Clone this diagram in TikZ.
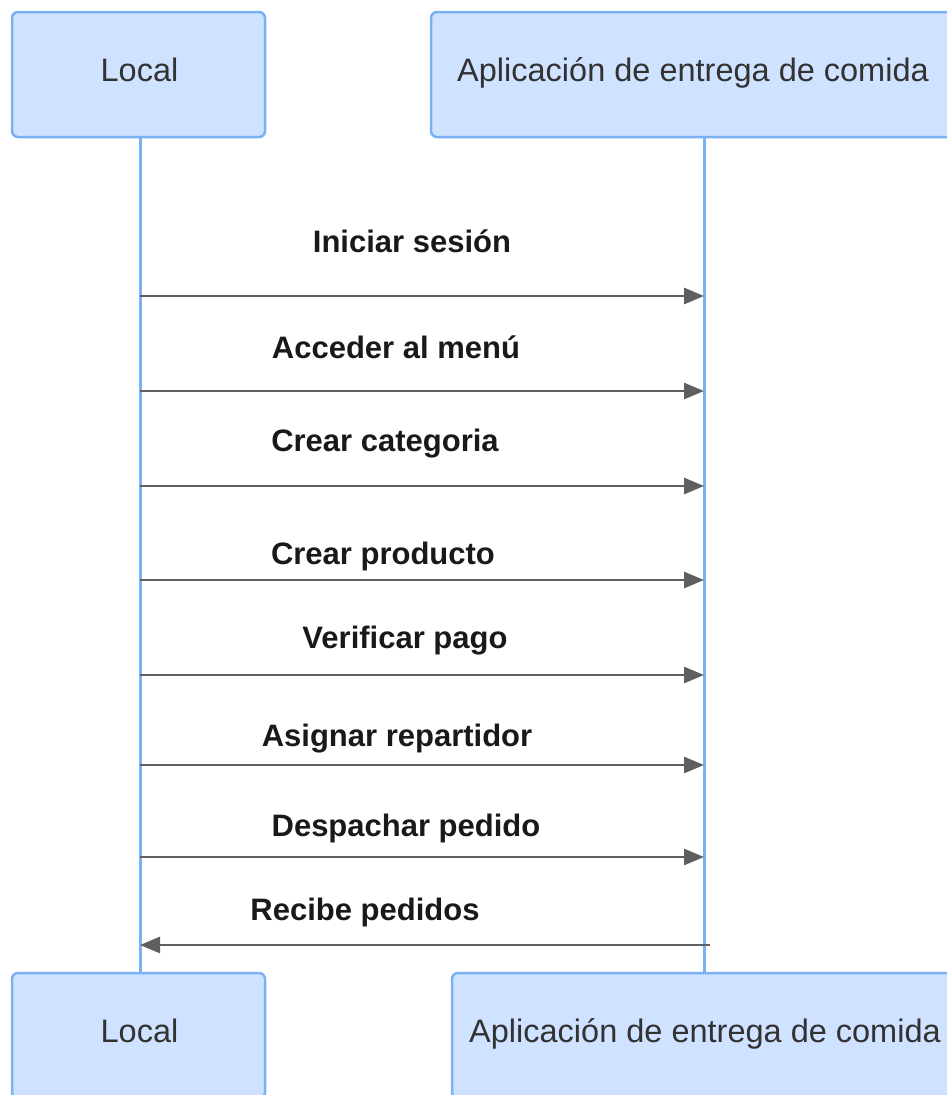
\documentclass[tikz,border=0pt]{standalone}
\usepackage{fontspec}
\setmainfont{Liberation Sans}
\usetikzlibrary{arrows.meta}
\definecolor{actorfill}{RGB}{207,226,255}
\definecolor{actorline}{RGB}{122,176,245}
\definecolor{msgline}{RGB}{95,95,95}
\definecolor{actortext}{RGB}{50,50,50}
\tikzset{
  actor/.style={draw=actorline, fill=actorfill, line width=2.5pt, rounded corners=6pt,
    minimum height=125pt, inner sep=0pt},
  actortextstyle/.style={font=\fontsize{32.5}{38}\selectfont, text=actortext, inner sep=0pt},
  lifeline/.style={draw=actorline, line width=3pt},
  msg/.style={draw=msgline, line width=2.8pt, -{Triangle[length=20pt,width=16pt]}},
  msglabel/.style={anchor=base, font=\fontsize{31}{36}\selectfont\bfseries, text=black!90}
}
\begin{document}
\begin{tikzpicture}[x=1pt,y=-1pt]
  \useasboundingbox (0,0) rectangle (947,1095);
  \clip (0,0) rectangle (947,1095);

  % participants, top row
  \node[actor, minimum width=253pt] (localtop) at (138.5,74.5) {};
  \node[actor, minimum width=524pt] (apptop) at (693,74.5) {};
  \node[actortextstyle] (localtoptext) at (139.5,70) {Local};
  \node[actortextstyle] (apptoptext) at (693,73) {Aplicación de entrega de comida};
  % participants, bottom row
  \node[actor, minimum width=253pt] (localbot) at (138.5,1035.5) {};
  \node[actor, minimum width=506pt] (appbot) at (705,1035.5) {};
  \node[actortextstyle] (localbottext) at (139.5,1031) {Local};
  \node[actortextstyle] (appbottext) at (705,1034) {Aplicación de entrega de comida};

  % lifelines
  \coordinate (lltop) at (140,137);
  \coordinate (llbot) at (140,973);
  \coordinate (altop) at (704,137);
  \coordinate (albot) at (704,973);
  \draw[lifeline] (lltop) -- (llbot);
  \draw[lifeline] (altop) -- (albot);

  % message end points on the lifelines
  \foreach \i/\y in {1/296,2/391,3/486,4/580,5/675,6/765,7/857}{
    \coordinate (l\i) at (140,\y);
    \coordinate (a\i) at (704,\y);
  }
  \coordinate (l8) at (140,945);
  \coordinate (a8) at (710,945);

  % messages
  \draw[msg] (l1) -- (a1);
  \draw[msg] (l2) -- (a2);
  \draw[msg] (l3) -- (a3);
  \draw[msg] (l4) -- (a4);
  \draw[msg] (l5) -- (a5);
  \draw[msg] (l6) -- (a6);
  \draw[msg] (l7) -- (a7);
  \draw[msg] (a8) -- (l8);

  % message labels
  \node[msglabel] (m1) at (412,252) {Iniciar sesión};
  \node[msglabel] (m2) at (396,358) {Acceder al menú};
  \node[msglabel] (m3) at (385,451) {Crear categoria};
  \node[msglabel] (m4) at (383,564) {Crear producto};
  \node[msglabel] (m5) at (405,648) {Verificar pago};
  \node[msglabel] (m6) at (397,746) {Asignar repartidor};
  \node[msglabel] (m7) at (406,836) {Despachar pedido};
  \node[msglabel] (m8) at (365,920) {Recibe pedidos};
\end{tikzpicture}
\end{document}
